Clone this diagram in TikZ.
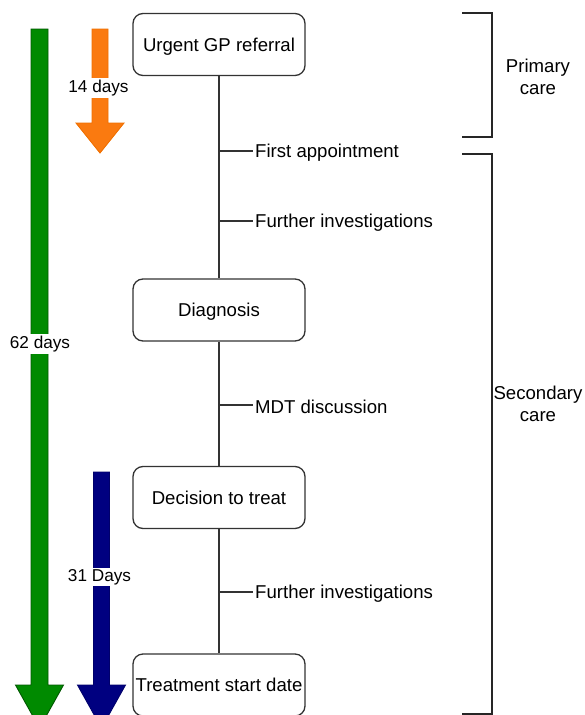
\documentclass[tikz,border=0pt]{standalone}
\usepackage{fontspec}
\setmainfont{Liberation Sans}
\definecolor{gfill}{HTML}{008A00}
\definecolor{gline}{HTML}{005700}
\definecolor{ofill}{HTML}{FA7A10}
\definecolor{oline}{HTML}{F07000}
\definecolor{nfill}{HTML}{000080}
\definecolor{nline}{HTML}{00006A}
\begin{document}
\begin{tikzpicture}[x=1pt,y=-1pt,
  box/.style={draw=black!80, line width=1.3pt, rounded corners=10pt, minimum width=172pt, minimum height=62pt, font=\fontsize{18.6}{22}\selectfont, inner sep=0pt, text depth=0pt},
  lab/.style={font=\fontsize{18.6}{22}\selectfont, anchor=west, inner sep=2pt, yshift=-1.5pt},
  days/.style={fill=white, font=\fontsize{17.2}{20}\selectfont, inner sep=1.5pt},
  conn/.style={draw=black!80, line width=1.3pt},
  bracket/.style={draw=black!85, line width=2.8pt},
  care/.style={font=\fontsize{18.6}{22}\selectfont, align=center},
  arrowshape/.style={line width=0.9pt}
]
\useasboundingbox (0,0) rectangle (585,715);
\clip (0,0) rectangle (585,715);
\fill[white] (0,0) rectangle (585,715);

% time arrows
\filldraw[arrowshape, fill=gfill, draw=gline] (31,29) -- (48,29) -- (48,685) -- (63.5,685) -- (39.5,728) -- (15.5,685) -- (31,685) -- cycle;
\filldraw[arrowshape, fill=ofill, draw=oline] (92,29) -- (108,29) -- (108,123) -- (124,123) -- (100,153) -- (76,123) -- (92,123) -- cycle;
\filldraw[arrowshape, fill=nfill, draw=nline] (93.5,472) -- (109.5,472) -- (109.5,685) -- (125.5,685) -- (101.5,728) -- (77.5,685) -- (93.5,685) -- cycle;

\node[days] (d14) at (98.5,88) {14 days};
\node[days] (d62) at (40,344) {62 days};
\node[days] (d31) at (99.5,577) {31 Days};

% boxes
\node[box] (gp) at (219,44.5) {Urgent GP referral};
\node[box] (dx) at (219,310) {Diagnosis};
\node[box] (dt) at (219,497.5) {Decision to treat};
\node[box] (tx) at (219,685) {Treatment start date};

\draw[conn] (gp.south) -- (dx.north);
\draw[conn] (dx.south) -- (dt.north);
\draw[conn] (dt.south) -- (tx.north);

% ticks
\coordinate (c1) at (219,151);
\coordinate (c2) at (219,221);
\coordinate (c3) at (219,405);
\coordinate (c4) at (219,592);
\node[lab] (l1) at (253,151) {First appointment};
\node[lab] (l2) at (253,221) {Further investigations};
\node[lab] (l3) at (253,405) {MDT discussion};
\node[lab] (l4) at (253,592) {Further investigations};
\draw[conn] (c1) -- (c1 -| l1.west);
\draw[conn] (c2) -- (c2 -| l2.west);
\draw[conn] (c3) -- (c3 -| l3.west);
\draw[conn] (c4) -- (c4 -| l4.west);

% brackets
\draw[bracket] (462,13) -- (492,13) -- (492,137) -- (462,137);
\draw[bracket] (462,154) -- (492,154) -- (492,714) -- (462,714);
\node[care] (pc) at (538,77) {Primary\\care};
\node[care] (sc) at (538,404) {Secondary\\care};
\end{tikzpicture}
\end{document}
